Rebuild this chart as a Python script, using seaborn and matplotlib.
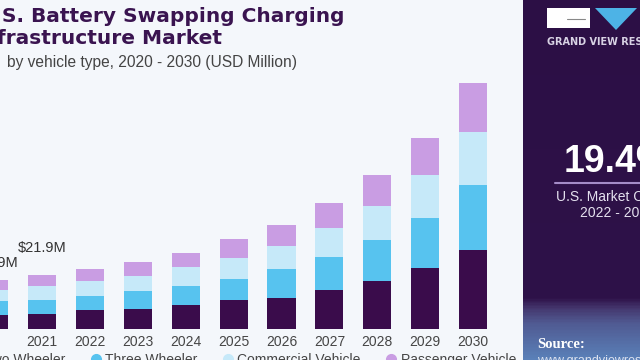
import numpy as np
import pandas as pd
import matplotlib.pyplot as plt
import seaborn as sns
from matplotlib.lines import Line2D
from matplotlib.patches import Rectangle, Polygon
from matplotlib.colors import LinearSegmentedColormap

# values (USD Million)
years = ["2020", "2021", "2022", "2023", "2024", "2025", "2026", "2027", "2028", "2029", "2030"]
two_wheeler = [5.8, 6.1, 7.7, 8.0, 9.7, 11.6, 12.7, 15.8, 19.5, 24.7, 32.0]
three_wheeler = [5.4, 5.7, 5.8, 7.5, 7.8, 8.8, 11.5, 13.3, 16.6, 20.5, 26.4]
commercial = [4.6, 5.8, 6.1, 6.1, 7.5, 8.4, 9.4, 11.8, 13.9, 17.2, 21.6]
passenger = [4.1, 4.3, 4.7, 5.4, 5.9, 7.7, 8.5, 10.1, 12.4, 15.2, 19.6]

segment_names = ["Two Wheeler", "Three Wheeler", "Commercial Vehicle", "Passenger Vehicle"]
segment_colors = ["#3a0c4b", "#57c3ef", "#c6e9f9", "#c99de3"]
bar_labels = {"2020": r"\$19.9M", "2021": r"\$21.9M"}

W, H = 640, 360
BG = "#f4f7fb"


def px(x, y):
    """pixel position (from top-left) -> figure fraction"""
    return x / W, 1 - y / H


sns.set_theme(style="white")
plt.rcParams['font.family'] = ['Liberation Sans', 'DejaVu Sans']

df = pd.DataFrame({"year": years, "Two Wheeler": two_wheeler, "Three Wheeler": three_wheeler,
                   "Commercial Vehicle": commercial, "Passenger Vehicle": passenger})
stack = df[segment_names].cumsum(axis=1)

fig = plt.figure(figsize=(6.4, 3.6), dpi=100, facecolor=BG)
ax = fig.add_axes([0, 31 / H, 523 / W, 329 / H])
ax.set_facecolor("none")

# stacked bars: draw running totals from the top segment down
for name, color in reversed(list(zip(segment_names, segment_colors))):
    sns.barplot(x=df["year"], y=stack[name], color=color, width=0.585, saturation=1,
                errorbar=None, linewidth=0, ax=ax)

ax.set_xlim(0.123, 0.123 + 523 / 47.9)
ax.set_ylim(0, 329 / 2.466)
ax.set_xlabel("")
ax.set_ylabel("")
ax.set_yticks([])
for s in ax.spines.values():
    s.set_visible(False)
ax.tick_params(axis="x", length=0, pad=4, labelsize=10, labelcolor="#454545")

for (year, text), off in zip(bar_labels.items(), [12, 19.5]):
    i = years.index(year)
    ax.annotate(text, (i, stack.iloc[i, -1]), xytext=(0, off), textcoords="offset points",
                ha="center", va="center", fontsize=10.5, color="#333333", annotation_clip=False)

# legend along the bottom edge
handles = [Line2D([], [], marker="o", linestyle="", markersize=7, color=c) for c in segment_colors]
fig.legend(handles, segment_names, loc="center left", bbox_to_anchor=(-31 / W, 0 / H),
           ncol=4, frameon=False, fontsize=10, handlelength=0.8, handletextpad=0.3,
           columnspacing=1.76, borderpad=0, borderaxespad=0, labelcolor="#454545")

# title block (cut off at the left like the reference)
fig.text(*px(345, 17), "U.S. Battery Swapping Charging", ha="right", va="center",
         fontsize=14.5, fontweight="bold", family="DejaVu Sans", color="#3a1450")
fig.text(*px(222, 39), "Infrastructure Market", ha="right", va="center",
         fontsize=14.5, fontweight="bold", family="DejaVu Sans", color="#3a1450")
fig.text(*px(297, 63), "by vehicle type, 2020 - 2030 (USD Million)", ha="right", va="center",
         fontsize=11.2, color="#444444")

# right-hand panel
pax = fig.add_axes([523 / W, 0, 117 / W, 1])
cmap = LinearSegmentedColormap.from_list("panel", [(0, "#2c0f45"), (0.83, "#2e1249"),
                                                   (0.86, "#45386f"), (0.9, "#505a92"),
                                                   (1, "#5a80b8")])
pax.imshow(np.linspace(0, 1, 360).reshape(-1, 1), aspect="auto", cmap=cmap, extent=[0, 1, 0, 1])
pax.axis("off")

x0, y0 = px(547, 28)
fig.patches.append(Rectangle((x0, y0), 43 / W, 20 / H, transform=fig.transFigure,
                             facecolor="white", edgecolor="none", zorder=3))
fig.lines.append(Line2D([567 / W, 585 / W], [px(0, 19)[1]] * 2, transform=fig.transFigure,
                        color="#888888", lw=0.8, zorder=4))
fig.patches.append(Polygon([px(595, 8), px(637, 8), px(616, 30)], closed=True,
                           transform=fig.transFigure, facecolor="#4db3e6", edgecolor="none", zorder=3))
fig.text(*px(547, 42), "GRAND VIEW RESEARCH", ha="left", va="center", fontsize=7,
         fontweight="bold", family="DejaVu Sans", color="#d8d2e4")

fig.text(*px(617, 162), "19.4%", ha="center", va="center", fontsize=27, fontweight="bold", color="white")
fig.lines.append(Line2D([555 / W, 1], [px(0, 183)[1]] * 2, transform=fig.transFigure,
                        color="#a58cc8", lw=1.5, zorder=4))
fig.text(*px(617, 197), "U.S. Market CAGR,", ha="center", va="center", fontsize=10, color="#e4e0ee")
fig.text(*px(617, 213), "2022 - 2030", ha="center", va="center", fontsize=10, color="#e4e0ee")

fig.text(*px(537, 345), "Source:", ha="left", va="center", fontsize=10.5, fontweight="bold",
         family="Liberation Serif", color="white")
fig.text(*px(537, 361), "www.grandviewresearch.com", ha="left", va="center", fontsize=9,
         color="#dde3f0")

fig.savefig("out.png", dpi=100, facecolor=fig.get_facecolor())
